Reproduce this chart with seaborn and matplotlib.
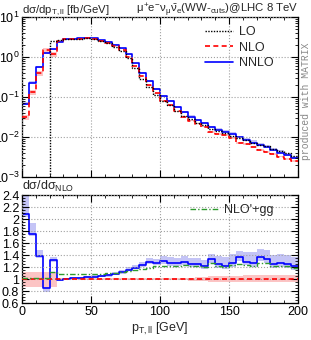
import numpy as np
import matplotlib
matplotlib.use("Agg")
import matplotlib.pyplot as plt
import seaborn as sns
from matplotlib.ticker import MultipleLocator, LogLocator, NullFormatter

sns.set_theme(style="ticks")
plt.rcParams['font.family'] = ['Liberation Sans', 'DejaVu Sans']
plt.rcParams['mathtext.fontset'] = 'custom'
plt.rcParams['mathtext.rm'] = 'Liberation Sans'
plt.rcParams['mathtext.it'] = 'Liberation Sans'
plt.rcParams['mathtext.bf'] = 'Liberation Sans:bold'

# bins of 5 GeV in pT,ll
edges = np.arange(0, 205, 5)

# LO [fb/GeV] (zero below 20 GeV)
lo = [0, 0, 0, 0, 2.5, 2.7, 2.8, 2.85, 2.9, 2.95,
      2.85, 2.55, 2.25, 1.80, 1.40, 0.95, 0.54, 0.29, 0.175, 0.115,
      0.080, 0.062, 0.045, 0.034, 0.028, 0.023, 0.0195, 0.0158, 0.0138, 0.0125,
      0.0108, 0.0092, 0.0082, 0.0072, 0.0064, 0.0058, 0.0051, 0.0045, 0.0039, 0.0034]

# NLO [fb/GeV]
nlo = [0.0317, 0.132, 0.399, 1.50, 1.18, 2.45, 2.77, 2.82, 2.88, 2.95,
       2.83, 2.53, 2.26, 1.90, 1.49, 1.02, 0.588, 0.333, 0.194, 0.123,
       0.0815, 0.0622, 0.0437, 0.0318, 0.0257, 0.0213, 0.0180, 0.0135, 0.0121, 0.0112,
       0.00937, 0.00721, 0.00651, 0.00567, 0.0046, 0.00429, 0.00378, 0.00325, 0.0028, 0.00247]

# NNLO / NLO
nnlo_ratio = [2.08, 1.745, 1.38, 0.845, 1.32, 0.98, 1.0, 1.01, 1.02, 1.03,
              1.04, 1.05, 1.06, 1.08, 1.11, 1.15, 1.19, 1.23, 1.29, 1.27,
              1.30, 1.27, 1.26, 1.29, 1.245, 1.25, 1.22, 1.33, 1.245, 1.22,
              1.27, 1.36, 1.29, 1.27, 1.37, 1.33, 1.245, 1.26, 1.25, 1.215]

# NLO'+gg / NLO
ggnlo_ratio = [1.01, 1.01, 1.01, 1.01, 1.11, 1.085, 1.08, 1.08, 1.085, 1.085,
               1.09, 1.09, 1.095, 1.10, 1.11, 1.13, 1.15, 1.17, 1.19, 1.21,
               1.21, 1.21, 1.22, 1.23, 1.22, 1.22, 1.20, 1.27, 1.22, 1.20,
               1.23, 1.25, 1.24, 1.22, 1.26, 1.27, 1.21, 1.22, 1.22, 1.18]

# relative scale uncertainties
nnlo_up = [0.17, 0.11, 0.07, 0.03, 0.04, 0.02, 0.02, 0.02, 0.02, 0.02,
           0.02, 0.02, 0.025, 0.03, 0.035, 0.04, 0.04, 0.045, 0.05, 0.05,
           0.06, 0.07, 0.07, 0.07, 0.08, 0.08, 0.08, 0.07, 0.11, 0.12,
           0.12, 0.08, 0.13, 0.14, 0.10, 0.11, 0.13, 0.13, 0.12, 0.13]
nnlo_dn = [0.02, 0.02, 0.02, 0.08, 0.03, 0.02, 0.02, 0.02, 0.02, 0.02,
           0.02, 0.02, 0.02, 0.02, 0.02, 0.02, 0.02, 0.025, 0.03, 0.03,
           0.04, 0.04, 0.04, 0.04, 0.04, 0.045, 0.045, 0.05, 0.05, 0.05,
           0.05, 0.05, 0.05, 0.05, 0.05, 0.05, 0.05, 0.05, 0.05, 0.05]
nlo_up = [0.12, 0.12, 0.12, 0.12, 0.12, 0.015, 0.015, 0.015, 0.015, 0.015,
          0.015, 0.015, 0.015, 0.015, 0.015, 0.015, 0.015, 0.015, 0.015, 0.015,
          0.015, 0.02, 0.02, 0.02, 0.025, 0.03, 0.04, 0.05, 0.05, 0.05,
          0.055, 0.055, 0.06, 0.06, 0.06, 0.06, 0.06, 0.06, 0.06, 0.06]
nlo_dn = [0.14, 0.14, 0.14, 0.14, 0.14, 0.015, 0.015, 0.015, 0.015, 0.015,
          0.015, 0.015, 0.015, 0.015, 0.015, 0.015, 0.015, 0.015, 0.015, 0.015,
          0.015, 0.02, 0.02, 0.02, 0.025, 0.03, 0.04, 0.05, 0.05, 0.05,
          0.05, 0.05, 0.05, 0.05, 0.05, 0.05, 0.05, 0.05, 0.05, 0.05]

lo = np.array(lo)
nlo = np.array(nlo)
nnlo = nlo * np.array(nnlo_ratio)
gg = np.array(ggnlo_ratio)


def st(v):
    v = np.asarray(v, dtype=float)
    return np.append(v, v[-1])


c_lo, c_nlo, c_nnlo, c_gg = 'black', '#ff0000', '#0000ff', '#2e9a2e'
band_nnlo, band_nlo = '#c4c4f6', '#fcc4c4'

fig = plt.figure(figsize=(3.11, 3.40), dpi=100)
ax1 = fig.add_axes([22 / 311, 1 - 177 / 340, 276 / 311, 160 / 340])
ax2 = fig.add_axes([22 / 311, 1 - 303 / 340, 276 / 311, 108 / 340])

# ---- top panel
ax1.fill_between(edges, st(nnlo * (1 - np.array(nnlo_dn))), st(nnlo * (1 + np.array(nnlo_up))),
                 step='post', color=band_nnlo, lw=0, zorder=1)
ax1.fill_between(edges, st(nlo * (1 - np.array(nlo_dn))), st(nlo * (1 + np.array(nlo_up))),
                 step='post', color=band_nlo, lw=0, zorder=1)
sns.lineplot(x=edges, y=st(lo), ax=ax1, color=c_lo, lw=1.0, linestyle=(0, (1, 1)),
             drawstyle='steps-post', label='LO', zorder=4)
sns.lineplot(x=edges, y=st(nlo), ax=ax1, color=c_nlo, lw=1.2, linestyle=(0, (3, 2)),
             drawstyle='steps-post', label='NLO', zorder=3)
sns.lineplot(x=edges, y=st(nnlo), ax=ax1, color=c_nnlo, lw=1.2,
             drawstyle='steps-post', label='NNLO', zorder=2)
ax1.set_yscale('log')
ax1.set_xlim(0, 200)
ax1.set_ylim(1e-3, 10)
ax1.yaxis.set_major_locator(LogLocator(base=10, numticks=10))
ax1.yaxis.set_minor_locator(LogLocator(base=10, subs=np.arange(2, 10), numticks=20))
ax1.yaxis.set_minor_formatter(NullFormatter())
ax1.xaxis.set_major_locator(MultipleLocator(50))
ax1.xaxis.set_minor_locator(MultipleLocator(10))
ax1.tick_params(axis='x', labelbottom=False)
ax1.set_xlabel('')
ax1.set_ylabel('')
ax1.legend(loc='upper right', bbox_to_anchor=(0.93, 0.975), frameon=False, fontsize=9,
           handlelength=2.2, handletextpad=0.5, labelspacing=0.3, borderaxespad=0)
ax1.text(0, 0.025 + 1, r'd$\sigma$/dp$_{\mathrm{T,ll}}$ [fb/GeV]', transform=ax1.transAxes,
         ha='left', va='baseline', fontsize=8.2)
ax1.text(1, 0.025 + 1, r'$\mu^{+}e^{-}\nu_{\mu}\bar{\nu}_{e}$(WW-$_{\mathrm{cuts}}$)@LHC 8 TeV',
         transform=ax1.transAxes, ha='right', va='baseline', fontsize=8.2)

# ---- ratio panel
ax2.fill_between(edges, st(1 - np.array(nlo_dn)), st(1 + np.array(nlo_up)),
                 step='post', color=band_nlo, lw=0, zorder=1)
ax2.fill_between(edges, st(nnlo * (1 - np.array(nnlo_dn)) / nlo), st(nnlo * (1 + np.array(nnlo_up)) / nlo),
                 step='post', color=band_nnlo, lw=0, zorder=1)
sns.lineplot(x=edges, y=st(nlo / nlo), ax=ax2, color=c_nlo, lw=1.2, linestyle=(0, (3, 2)),
             drawstyle='steps-post', zorder=3)
sns.lineplot(x=edges, y=st(nnlo / nlo), ax=ax2, color=c_nnlo, lw=1.2,
             drawstyle='steps-post', zorder=2)
sns.lineplot(x=edges, y=st(gg), ax=ax2, color=c_gg, lw=1.0, linestyle=(0, (4, 1.5, 1, 1.5)),
             drawstyle='steps-post', label="NLO'+gg", zorder=3)
ax2.set_xlim(0, 200)
ax2.set_ylim(0.6, 2.4)
ax2.yaxis.set_major_locator(MultipleLocator(0.2))
ax2.yaxis.set_minor_locator(MultipleLocator(0.05))
ax2.yaxis.set_major_formatter(matplotlib.ticker.FuncFormatter(lambda v, p: f'{v:g}'))
ax2.xaxis.set_major_locator(MultipleLocator(50))
ax2.xaxis.set_minor_locator(MultipleLocator(10))
ax2.set_ylabel('')
ax2.set_xlabel(r'p$_{\mathrm{T,ll}}$ [GeV]', fontsize=9, labelpad=2)
ax2.legend(loc='upper right', bbox_to_anchor=(0.93, 0.96), frameon=False, fontsize=9,
           handlelength=2.2, handletextpad=0.5, borderaxespad=0)
ax2.text(0, 1.01, r'd$\sigma$/d$\sigma_{\mathrm{NLO}}$', transform=ax2.transAxes,
         ha='left', va='bottom', fontsize=9)

for ax in (ax1, ax2):
    ax.grid(True, which='major', linestyle=':', color='#a0a0a0', lw=0.8)
    ax.set_axisbelow(False)
    ax.tick_params(which='both', direction='in', top=True, right=True, labelsize=9,
                   colors='black', pad=2)
    ax.tick_params(which='major', length=5, width=0.8)
    ax.tick_params(which='minor', length=2.5, width=0.6)
    for s in ax.spines.values():
        s.set_color('black')
        s.set_linewidth(0.9)

fig.text(306 / 311, 1 - 101 / 340, 'produced with MATRIX', rotation=90, ha='center', va='center',
         fontsize=7, color='#888888', family=['Liberation Mono', 'DejaVu Sans Mono'])

fig.savefig('out.png', dpi=100)
